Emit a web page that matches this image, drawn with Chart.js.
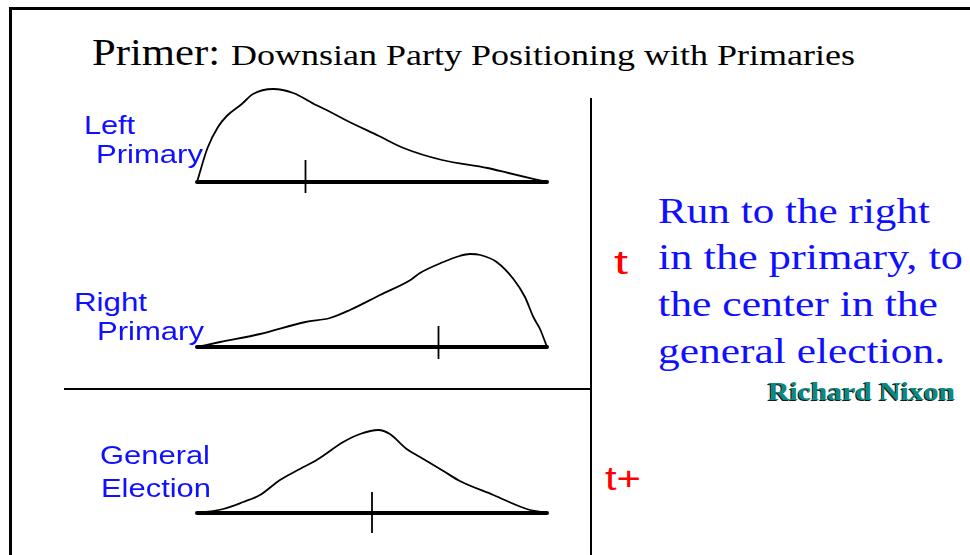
<!DOCTYPE html>
<html>
<head>
<meta charset="utf-8">
<script src="https://cdn.jsdelivr.net/npm/chart.js@4.4.1/dist/chart.umd.min.js"></script>
<style>
  html, body { margin: 0; padding: 0; background: #fff; }
  #slide { position: relative; width: 970px; height: 555px; overflow: hidden; background: #fff; }
  .rule { position: absolute; background: #000; }
  .txt { position: absolute; white-space: nowrap; line-height: 1; transform-origin: 0 0; }
  .panel { position: absolute; }
</style>
</head>
<body>
<div id="slide">
  <div class="rule" style="left:9px;top:7px;width:961px;height:3px"></div>
  <div class="rule" style="left:9px;top:7px;width:3px;height:548px"></div>
  <div class="rule" style="left:590px;top:98px;width:2px;height:457px"></div>
  <div class="rule" style="left:64px;top:388px;width:527px;height:2px"></div>

  <div class="panel" id="p1"><canvas id="leftChart"></canvas></div>
  <div class="panel" id="p2"><canvas id="rightChart"></canvas></div>
  <div class="panel" id="p3"><canvas id="generalChart"></canvas></div>
</div>

<script>
// voter distributions along the left-right axis (0 = far left, 100 = far right)
var leftPrimaryX = [0, 3, 6, 8.5, 12.8, 16, 21.8, 27.5, 34, 37, 43, 52, 59, 70, 83, 89, 100];
var leftPrimaryY = [0, 34, 55, 66, 78, 88, 93, 89, 77, 72, 61, 46, 34, 22, 14, 9, 0];

var rightPrimaryX = [0, 6.6, 18, 31, 38, 43.7, 52.3, 61, 63.7, 70.4, 75, 78, 81, 85.6, 90.4, 93.7, 96.1, 98, 100];
var rightPrimaryY = [0, 5, 13, 25, 29, 37, 52, 67, 74, 85, 91, 93, 92, 85, 68, 50, 30, 18, 0];

var generalX = [0, 7.5, 13.2, 18, 23.7, 29.4, 34.2, 41.8, 46.6, 51.8, 55.1, 59.9, 63.7, 70.4, 75.1, 84.7, 94.2, 100];
var generalY = [0, 4, 11, 18, 33, 44, 53, 71, 79, 83, 79, 64, 56, 42, 32, 18, 4, 0];

// median voter position of each electorate
var medians = [31, 69, 50];
var tickTop = [22, 21, 21];
var tickBottom = [-11, -12, -20];

var panelBaseline = [182, 347, 513];

function pts(xs, ys) {
  var out = [];
  for (var i = 0; i < xs.length; i++) out.push({ x: xs[i], y: ys[i] });
  return out;
}

function drawPanel(canvasId, wrapId, xs, ys, k) {
  var wrap = document.getElementById(wrapId);
  wrap.style.left = '187px';
  wrap.style.width = '370px';
  wrap.style.top = (panelBaseline[k] - 104) + 'px';
  wrap.style.height = '133px';
  new Chart(document.getElementById(canvasId), {
    type: 'line',
    data: {
      datasets: [
        {
          data: pts(xs, ys),
          borderColor: '#000',
          borderWidth: 1.8,
          pointRadius: 0,
          cubicInterpolationMode: 'monotone',
          fill: false,
          clip: false
        },
        {
          data: [{ x: 0, y: 0 }, { x: 100, y: 0 }],
          borderColor: '#000',
          borderWidth: 4,
          borderCapStyle: 'round',
          pointRadius: 0,
          clip: false
        },
        {
          data: [{ x: medians[k], y: tickTop[k] }, { x: medians[k], y: tickBottom[k] }],
          borderColor: '#000',
          borderWidth: 1.8,
          pointRadius: 0,
          clip: false
        }
      ]
    },
    options: {
      responsive: true,
      maintainAspectRatio: false,
      animation: false,
      events: [],
      layout: { padding: { left: 10, right: 10, top: 4, bottom: 4 } },
      plugins: { legend: { display: false }, tooltip: { enabled: false } },
      scales: {
        x: { type: 'linear', min: 0, max: 100, display: false },
        y: { min: -25, max: 100, display: false }
      }
    }
  });
}

drawPanel('leftChart', 'p1', leftPrimaryX, leftPrimaryY, 0);
drawPanel('rightChart', 'p2', rightPrimaryX, rightPrimaryY, 1);
drawPanel('generalChart', 'p3', generalX, generalY, 2);

// slide texts: text, left, baseline, family, size, colour, target width
var SERIF = '"Liberation Serif", "Times New Roman", serif';
var SANS = '"Liberation Sans", Arial, sans-serif';
var BLUE = '#1010ff';
var texts = [
  ['Primer:', 92, 65, SERIF, 38, '#000', 128],
  ['Downsian Party Positioning with Primaries', 231, 65, SERIF, 29, '#000', 624],
  ['Left', 84, 134, SANS, 25, BLUE, 51],
  ['Primary', 96, 163, SANS, 25, BLUE, 107],
  ['Right', 74, 311, SANS, 25, BLUE, 73],
  ['Primary', 97, 340, SANS, 25, BLUE, 107],
  ['General', 100, 464, SANS, 25, BLUE, 110],
  ['Election', 101, 497, SANS, 25, BLUE, 110],
  ['Run to the right', 658, 223, SERIF, 36, BLUE, 272],
  ['in the primary, to', 658, 269, SERIF, 36, BLUE, 305],
  ['the center in the', 658, 316, SERIF, 36, BLUE, 280],
  ['general election.', 658, 363, SERIF, 36, BLUE, 287],
  ['t', 614, 274, SANS, 33, '#ff0000', 14],
  ['t+', 605, 490, SANS, 33, '#ff0000', 36]
];

var slide = document.getElementById('slide');
function place(t, x, base, fam, size, color, w, extra) {
  var d = document.createElement('div');
  d.className = 'txt';
  d.textContent = t;
  d.style.fontFamily = fam;
  d.style.fontSize = size + 'px';
  d.style.color = color;
  d.style.left = x + 'px';
  d.style.top = (base - size * (fam === SANS ? 0.8465 : 0.8375)) + 'px';
  if (extra) for (var k in extra) d.style[k] = extra[k];
  slide.appendChild(d);
  var mw = d.getBoundingClientRect().width;
  d.style.transform = 'scaleX(' + (w / mw) + ')';
}
texts.forEach(function (r) { place(r[0], r[1], r[2], r[3], r[4], r[5], r[6]); });
place('Richard Nixon', 768, 400, SERIF, 25, '#0a8a80', 187,
  { fontWeight: 'bold', textShadow: '-1px 1px 0 #1a1a1a' });
</script>
</body>
</html>
